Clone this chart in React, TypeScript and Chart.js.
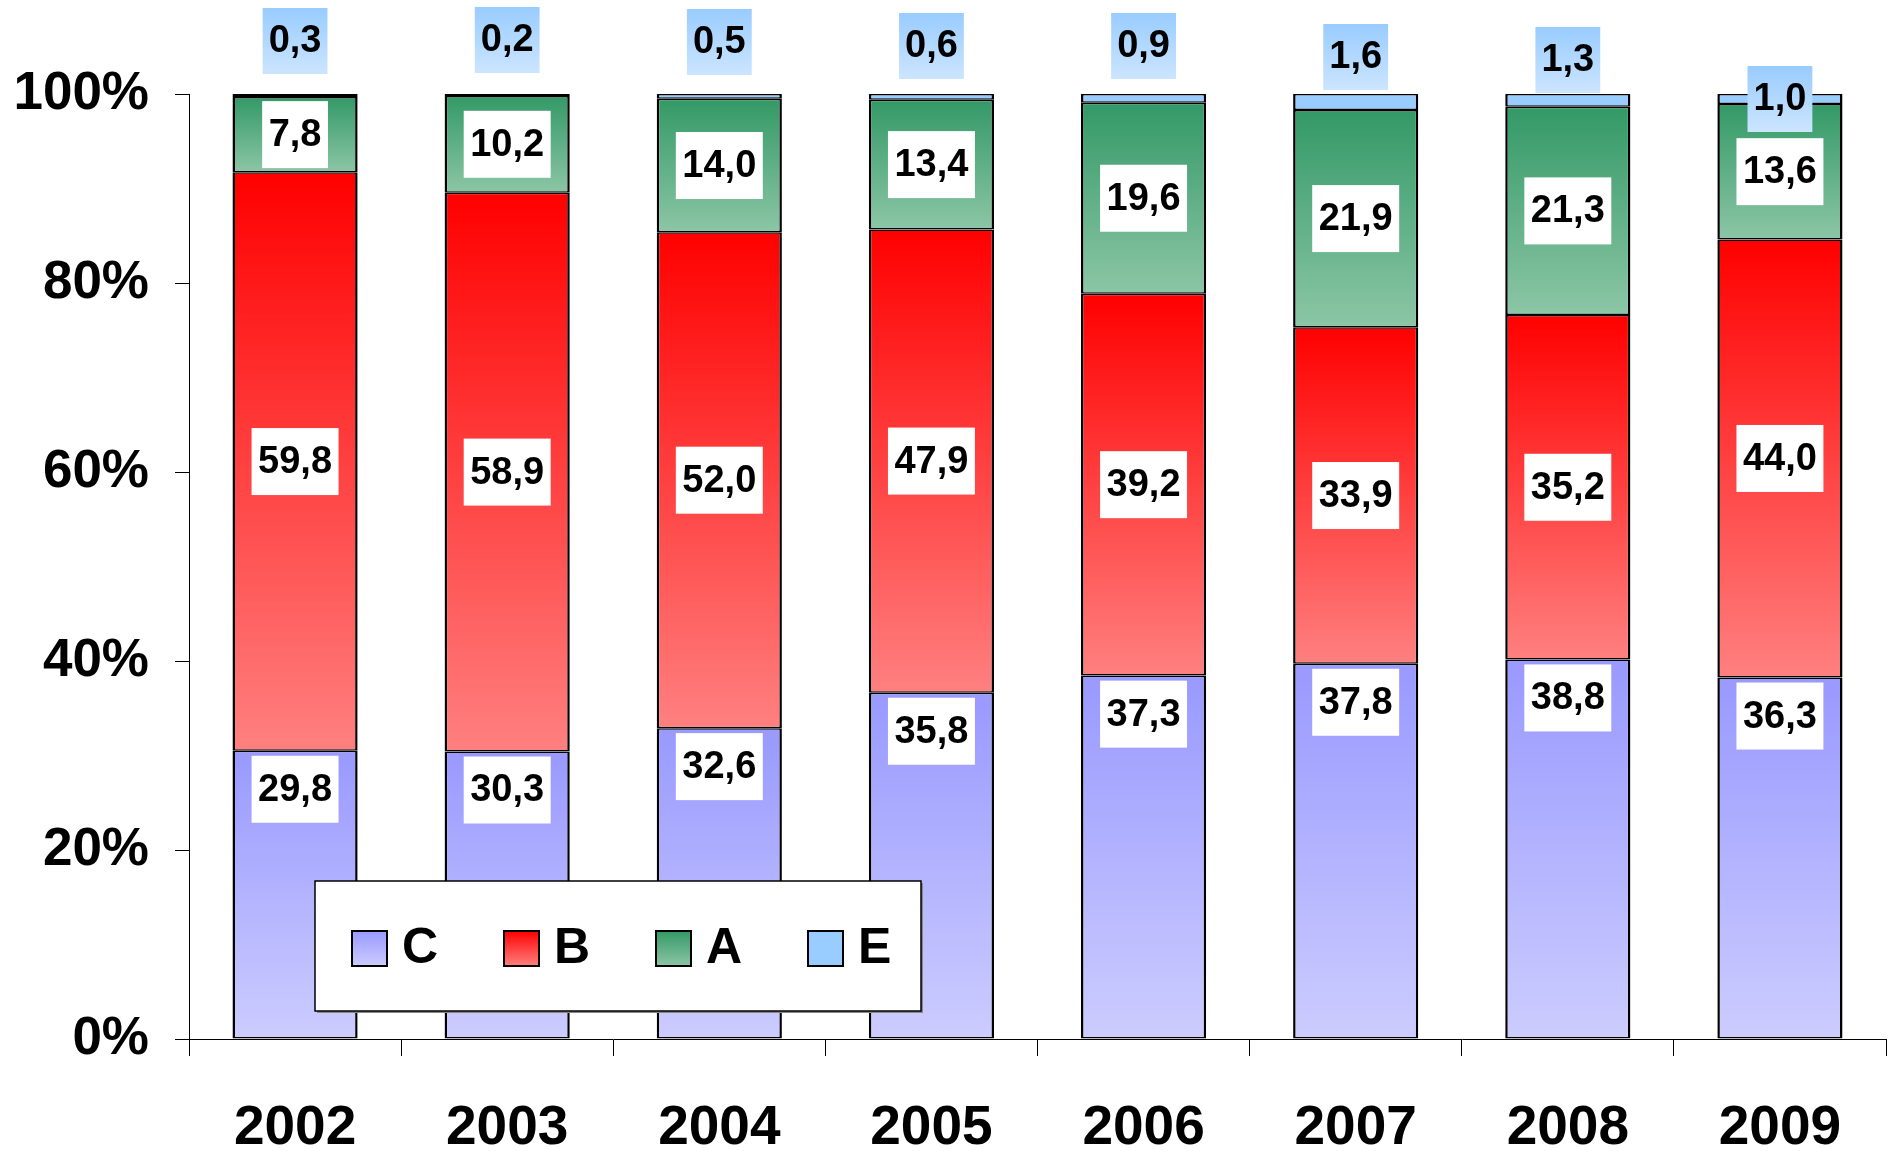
import React, { useEffect, useRef } from 'react';
import { Chart, registerables } from 'chart.js';

Chart.register(...registerables);

const years = ['2002', '2003', '2004', '2005', '2006', '2007', '2008', '2009'];
const seriesC = [29.8, 30.3, 32.6, 35.8, 37.3, 37.8, 38.8, 36.3];
const seriesB = [59.8, 58.9, 52.0, 47.9, 39.2, 33.9, 35.2, 44.0];
const seriesA = [7.8, 10.2, 14.0, 13.4, 19.6, 21.9, 21.3, 13.6];
const seriesE = [0.3, 0.2, 0.5, 0.6, 0.9, 1.6, 1.3, 1.0];
const seriesNames = ['C', 'B', 'A', 'E'];
const yTickValues = [0, 20, 40, 60, 80, 100];

const FONT = "'Liberation Sans', Arial, sans-serif";

const raw = [seriesC, seriesB, seriesA, seriesE];
const totals = years.map((_, i) => raw.reduce((s, arr) => s + arr[i], 0));
const pct = raw.map((arr) => arr.map((v, i) => (v / totals[i]) * 100));

const colorStops: [string, string][] = [
  ['#9999FF', '#CCCCFF'],
  ['#FF0000', '#FF8080'],
  ['#339966', '#8CC6A6'],
  ['#99CCFF', '#99CCFF'],
];

// manual vertical placement of the E labels relative to the 100% line
const eLabelOffsets = [-53, -54, -52, -48, -48, -37, -34, 5];

const fmt = (v: number) => v.toFixed(1).replace('.', ',');

const gradientFor = (di: number) => (ctx: any) => {
  const chart = ctx.chart;
  const [top, bottom] = colorStops[di];
  if (!chart.chartArea || ctx.type !== 'data') return top;
  const i = ctx.dataIndex;
  let start = 0;
  for (let d = 0; d < di; d++) start += pct[d][i];
  const end = start + pct[di][i];
  const y0 = chart.scales.y.getPixelForValue(end);
  const y1 = chart.scales.y.getPixelForValue(start);
  const g = chart.ctx.createLinearGradient(0, y0, 0, Math.max(y1, y0 + 1));
  g.addColorStop(0, top);
  g.addColorStop(1, bottom);
  return g;
};

const labelPlugin = {
  id: 'segLabels',
  afterDatasetsDraw(chart: any) {
    const c = chart.ctx as CanvasRenderingContext2D;
    c.save();
    c.font = `bold 38px ${FONT}`;
    c.textAlign = 'center';
    c.textBaseline = 'middle';
    const h = 67;
    for (let d = 0; d < 3; d++) {
      const meta = chart.getDatasetMeta(d);
      meta.data.forEach((el: any, i: number) => {
        const { x, y, base } = el.getProps(['x', 'y', 'base'], true);
        const text = fmt(raw[d][i]);
        const cy = d === 0 ? y + 38.5 : (y + base) / 2;
        const tw = c.measureText(text).width;
        const w = tw + 13;
        c.fillStyle = '#FFFFFF';
        c.fillRect(x - w / 2, cy - h / 2, w, h);
        c.fillStyle = '#000';
        c.fillText(text, x, cy + 1);
      });
    }
    const metaE = chart.getDatasetMeta(3);
    const y100 = chart.scales.y.getPixelForValue(100);
    metaE.data.forEach((el: any, i: number) => {
      const { x } = el.getProps(['x'], true);
      const text = fmt(raw[3][i]);
      const cy = y100 + eLabelOffsets[i];
      const tw = c.measureText(text).width;
      const w = tw + 12;
      const hh = 66;
      const g = c.createLinearGradient(0, cy - hh / 2, 0, cy + hh / 2);
      g.addColorStop(0, '#99CCFF');
      g.addColorStop(1, '#CCE5FF');
      c.fillStyle = g;
      c.fillRect(x - w / 2, cy - hh / 2, w, hh);
      c.fillStyle = '#000';
      c.fillText(text, x, cy + 1);
    });
    c.restore();
  },
};

const legendPlugin = {
  id: 'boxLegend',
  afterDraw(chart: any) {
    const c = chart.ctx as CanvasRenderingContext2D;
    const left = 315;
    const top = 881;
    const w = 606;
    const h = 130;
    c.save();
    c.fillStyle = '#888';
    c.fillRect(left + 2, top + 2, w, h);
    c.fillStyle = '#FFF';
    c.fillRect(left, top, w, h);
    c.strokeStyle = '#000';
    c.lineWidth = 1.5;
    c.strokeRect(left, top, w, h);
    c.font = `bold 50px ${FONT}`;
    c.textBaseline = 'middle';
    c.textAlign = 'left';
    seriesNames.forEach((name, k) => {
      const mx = 352 + k * 152;
      const my = 931;
      const s = 35;
      const g = c.createLinearGradient(0, my, 0, my + s);
      g.addColorStop(0, colorStops[k][0]);
      g.addColorStop(1, colorStops[k][1]);
      c.fillStyle = g;
      c.fillRect(mx, my, s, s);
      c.strokeStyle = '#000';
      c.lineWidth = 2;
      c.strokeRect(mx, my, s, s);
      c.fillStyle = '#000';
      c.fillText(name, mx + s + 15, my + s / 2 + 1);
    });
    c.restore();
  },
};

export default function App() {
  const ref = useRef<HTMLCanvasElement>(null);
  useEffect(() => {
    if (!ref.current) return;
    const chart = new Chart(ref.current, {
      type: 'bar',
      data: {
        labels: years,
        datasets: pct.map((arr, di) => ({
          label: seriesNames[di],
          data: arr,
          backgroundColor: gradientFor(di),
          borderColor: '#000',
          borderWidth: { top: 1.5, bottom: 1.5, left: 2.5, right: 2.5 },
          borderSkipped: false,
          barPercentage: 0.59,
          categoryPercentage: 1,
        })),
      },
      options: {
        animation: false,
        responsive: false,
        maintainAspectRatio: false,
        layout: { padding: { top: 94, right: 6, left: 0, bottom: 0 } },
        plugins: { legend: { display: false }, tooltip: { enabled: false } },
        scales: {
          x: {
            stacked: true,
            grid: { offset: true, drawOnChartArea: false, tickLength: 17, color: '#000', lineWidth: 1 },
            border: { display: true, color: '#000', width: 1 },
            ticks: { font: { family: FONT, size: 55, weight: 'bold' }, color: '#000', padding: 40 },
            afterFit: (s: any) => {
              s.height = 112;
            },
          },
          y: {
            stacked: true,
            min: 0,
            max: 100,
            afterBuildTicks: (s: any) => {
              s.ticks = yTickValues.map((v) => ({ value: v }));
            },
            ticks: {
              font: { family: FONT, size: 53, weight: 'bold' },
              color: '#000',
              padding: 26,
              callback: (v: any) => `${v}%`,
            },
            grid: { drawOnChartArea: false, tickLength: 14, color: '#000', lineWidth: 1 },
            border: { display: true, color: '#000', width: 1 },
            afterFit: (s: any) => {
              s.width = 189;
            },
          },
        },
      },
      plugins: [labelPlugin, legendPlugin],
    } as any);
    return () => chart.destroy();
  }, []);
  return (
    <div style={{ position: 'absolute', left: 0, top: 0, width: 1892, height: 1151, background: '#fff' }}>
      <canvas ref={ref} width={1892} height={1151} />
    </div>
  );
}
